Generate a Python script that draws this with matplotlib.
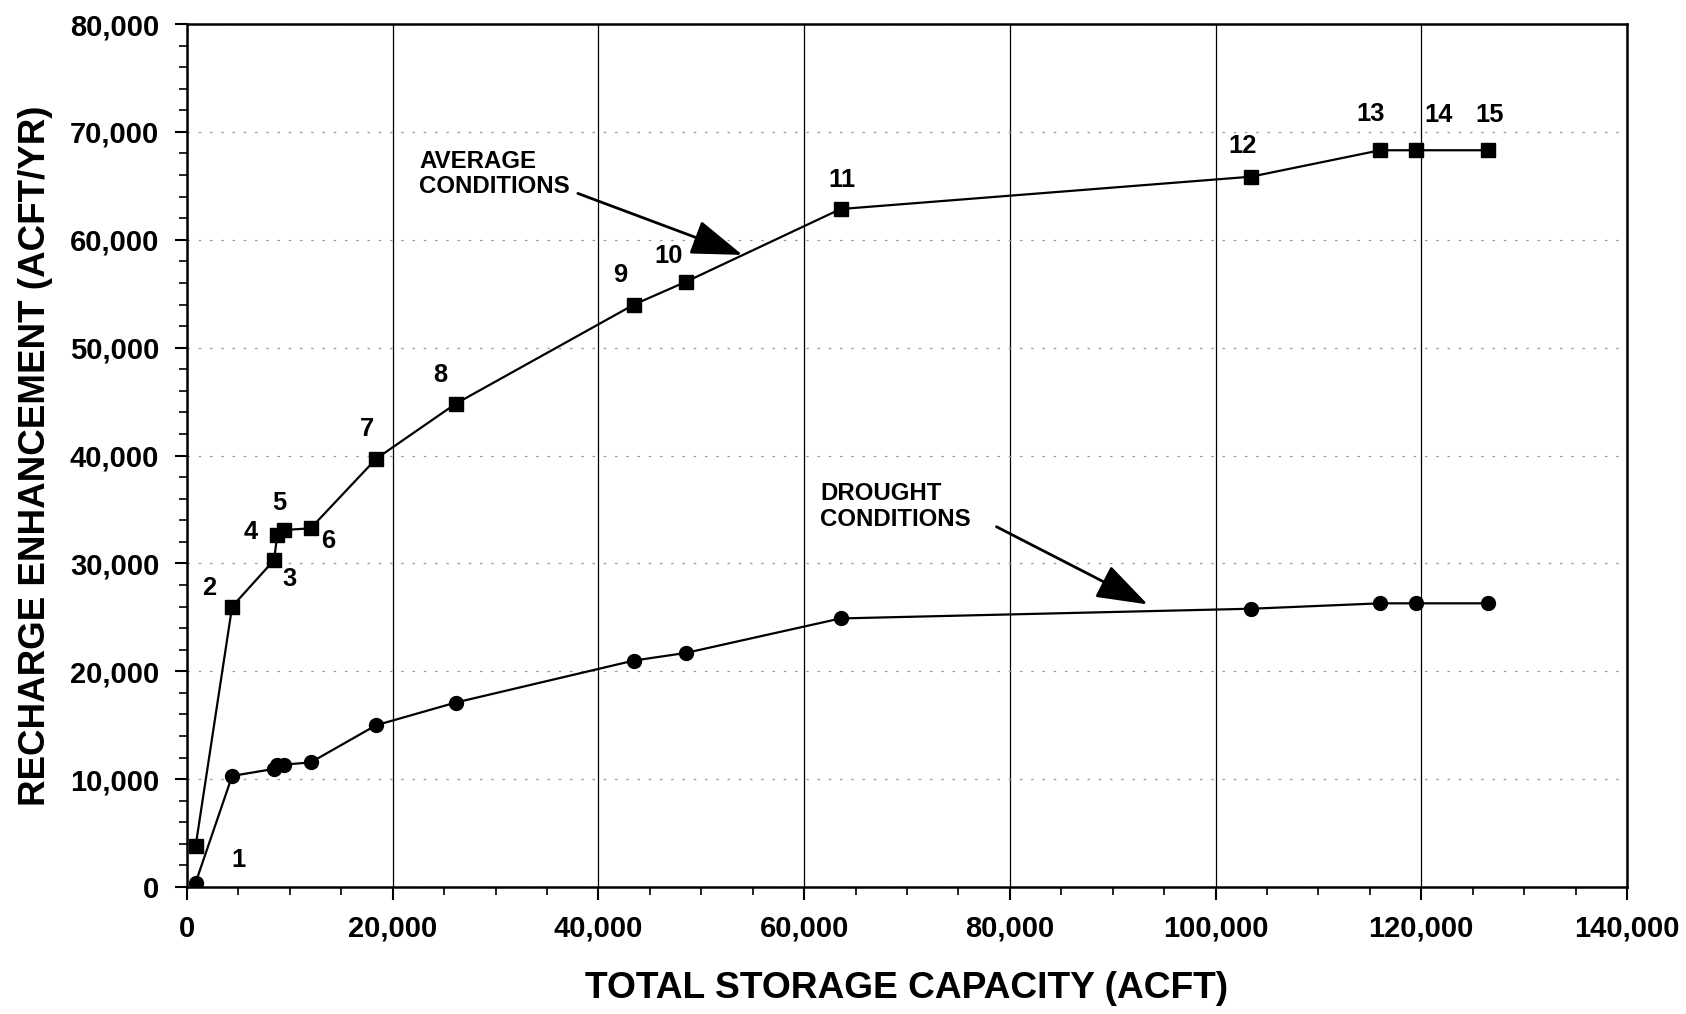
import matplotlib
matplotlib.use("Agg")
import matplotlib.pyplot as plt
from matplotlib.ticker import MultipleLocator, FuncFormatter
from matplotlib.patches import FancyArrowPatch

plt.rcParams['font.family'] = ['Liberation Sans', 'DejaVu Sans']
plt.rcParams['font.weight'] = 'bold'

# Data
storage = [840, 4390, 8460, 8780, 9400, 12020, 18390, 26120, 43470, 48490,
           63540, 103460, 116000, 119440, 126450]
average = [3800, 26000, 30300, 32600, 33100, 33250, 39700, 44800, 54000, 56100,
           62850, 65850, 68300, 68300, 68300]
drought = [400, 10300, 10950, 11300, 11350, 11550, 15000, 17100, 21000, 21700,
           24900, 25800, 26300, 26300, 26300]
point_labels = [str(i) for i in range(1, 16)]
# label offsets (pixels) relative to the average-condition points (point 1: drought point)
label_offsets = [(43, 23), (-23, 19), (16, -19), (-27, 3), (-4, 27), (18, -13),
                 (-9, 30), (-15, 29), (-14, 30), (-17, 26), (1, 29), (-9, 31),
                 (-10, 36), (23, 35), (2, 35)]

fig = plt.figure(figsize=(16.86, 10.14), dpi=100)
ax = fig.add_axes([0.1109, 0.1252, 0.8541, 0.8511])

ax.plot(storage, average, color='black', lw=1.6, marker='s', ms=10, zorder=3)
ax.plot(storage, drought, color='black', lw=1.6, marker='o', ms=10, zorder=3)

for x, y, lab, (dx, dy) in zip(storage, average, point_labels, label_offsets):
    ref_y = y
    if lab == '1':
        ref_y = drought[0]
    ax.annotate(lab, (x, ref_y), xytext=(dx, dy), textcoords='offset pixels',
                ha='center', va='center', fontsize=18.4, fontweight='bold')

ax.set_xlim(0, 140000)
ax.set_ylim(0, 80000)
ax.xaxis.set_major_locator(MultipleLocator(20000))
ax.xaxis.set_minor_locator(MultipleLocator(5000))
ax.yaxis.set_major_locator(MultipleLocator(10000))
ax.yaxis.set_minor_locator(MultipleLocator(2000))
fmt = FuncFormatter(lambda v, p: f"{int(v):,}")
ax.xaxis.set_major_formatter(fmt)
ax.yaxis.set_major_formatter(fmt)
ax.tick_params(axis='both', which='major', direction='out', length=9, width=1.5,
               labelsize=21, pad=11)
ax.tick_params(axis='both', which='minor', direction='out', length=6, width=1.2)
for lbl in ax.get_xticklabels() + ax.get_yticklabels():
    lbl.set_fontweight('bold')

ax.grid(axis='x', which='major', color='black', lw=0.9, ls='-')
ax.grid(axis='y', which='major', color='#999999', lw=0.9, ls=(0, (2, 7)))
ax.set_axisbelow(True)
for s in ax.spines.values():
    s.set_linewidth(1.8)

ax.set_xlabel('TOTAL STORAGE CAPACITY (ACFT)', fontsize=26.7, fontweight='bold', labelpad=20)
ax.set_ylabel('RECHARGE ENHANCEMENT (ACFT/YR)', fontsize=26.5, fontweight='bold', labelpad=12)

ax.text(22570, 66100, 'AVERAGE\nCONDITIONS', fontsize=17.3, fontweight='bold',
        ha='left', va='center', linespacing=1.15)
ax.add_patch(FancyArrowPatch((38000, 64300), (54000, 58600),
                             arrowstyle='-|>,head_length=1.6,head_width=0.55',
                             mutation_scale=20, color='black', lw=2, shrinkA=0, shrinkB=0))
ax.text(61550, 35250, 'DROUGHT\nCONDITIONS', fontsize=17.3, fontweight='bold',
        ha='left', va='center', linespacing=1.15)
ax.add_patch(FancyArrowPatch((78700, 33400), (93400, 26200),
                             arrowstyle='-|>,head_length=1.6,head_width=0.55',
                             mutation_scale=20, color='black', lw=2, shrinkA=0, shrinkB=0))

fig.savefig('out.png', dpi=100)
